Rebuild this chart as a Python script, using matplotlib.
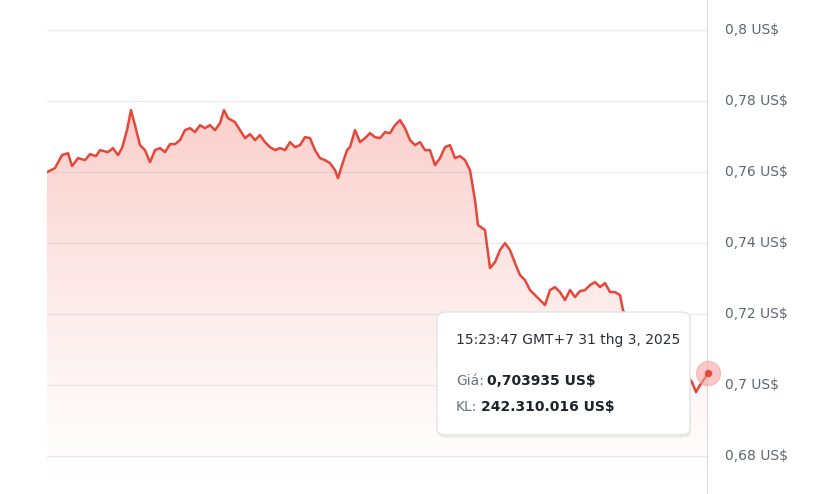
import matplotlib.pyplot as plt
import numpy as np
from matplotlib.patches import FancyBboxPatch

# pixel-read trace, converted to price below
px = [47, 55, 62, 68, 72, 78, 85, 90, 96, 100, 108, 113, 118, 122, 127, 131, 135, 140, 145, 150,
      155, 160, 165, 170, 175, 180, 185, 190, 195, 200, 205, 210, 215, 220, 224, 228, 235, 240, 245, 250,
      255, 260, 265, 270, 275, 280, 285, 290, 295, 300, 305, 310, 315, 320, 325, 330, 335, 338, 342, 347,
      350, 355, 360, 365, 370, 375, 380, 385, 390, 395, 400, 405, 410, 415, 420, 425, 430, 435, 440, 445,
      450, 455, 460, 465, 470, 475, 478, 485, 490, 495, 500, 505, 510, 515, 520, 525, 530, 535, 540, 545,
      550, 555, 560, 565, 570, 575, 580, 585, 590, 595, 600, 605, 610, 615, 620, 623, 630, 640, 650, 660,
      670, 680, 688, 692, 696, 700, 705, 708]
py = [172, 168, 155, 153, 166, 158, 160, 154, 156, 150, 152, 148, 155, 148, 130, 110, 125, 145, 150, 162,
      150, 148, 152, 144, 144, 140, 130, 128, 132, 125, 128, 125, 130, 123, 110, 118, 122, 130, 138, 134,
      140, 135, 142, 147, 150, 148, 150, 142, 147, 145, 137, 138, 150, 158, 160, 163, 170, 178, 165, 150,
      147, 130, 142, 138, 133, 137, 138, 132, 133, 125, 120, 128, 140, 145, 142, 150, 150, 165, 158, 147,
      145, 158, 156, 160, 170, 200, 225, 230, 268, 262, 250, 243, 250, 263, 275, 280, 290, 295, 300, 305,
      290, 287, 292, 300, 290, 297, 291, 290, 285, 282, 287, 283, 292, 292, 295, 310, 325, 335, 345, 355,
      362, 370, 377, 382, 392, 385, 378, 373]
price = [0.8 - (y - 30) / 71 * 0.02 for y in py]
ticks = [0.68, 0.70, 0.72, 0.74, 0.76, 0.78, 0.80]
tick_labels = ["0,68 US$", "0,7 US$", "0,72 US$", "0,74 US$", "0,76 US$", "0,78 US$", "0,8 US$"]

W, H = 825, 494
fig = plt.figure(figsize=(W / 100, H / 100), dpi=100)
ax = fig.add_axes([47 / W, 0, (708 - 47) / W, 1])
ax.set_xlim(47, 708)
ymin, ymax = 0.6693, 0.8085
ax.set_ylim(ymin, ymax)
for s in ax.spines.values():
    s.set_visible(False)
ax.set_xticks([])
ax.set_yticks([])
for t, lab in zip(ticks, tick_labels):
    ax.axhline(t, color="#ececef", lw=0.9, zorder=0)
    ax.text(725, t, lab, fontsize=10, color="#5f6673", va="center", ha="left", clip_on=False)

# gradient fill
grad = np.linspace(0, 1, 256).reshape(-1, 1)
rgba = np.zeros((256, 1, 4))
rgba[..., 0], rgba[..., 1], rgba[..., 2] = 0.93, 0.33, 0.28
rgba[..., 3] = 0.28 * grad[::-1] ** 1.3
rgba = rgba[::-1]
im = ax.imshow(rgba, extent=[47, 708, ymin, 0.776], aspect="auto", origin="lower", zorder=1)
poly = ax.fill_between(px, price, ymin, color="none")
im.set_clip_path(poly.get_paths()[0], transform=ax.transData)
ax.plot(px, price, color="#e5473a", lw=1.8, zorder=3)

ax.axvline(708, color="#cfd2d8", lw=1.2, zorder=2)
ax.scatter([px[-1]], [price[-1]], s=300, color="#f4a6a0", alpha=0.6, zorder=4, clip_on=False)
ax.scatter([px[-1]], [price[-1]], s=18, color="#e5473a", zorder=5, clip_on=False)

# tooltip
x0, y0, x1, y1 = 437, 312, 690, 435
shadow = FancyBboxPatch(((x0 + 1) / W, 1 - (y1 + 3) / H), (x1 - x0) / W, (y1 - y0) / H,
                        boxstyle="round,pad=0,rounding_size=0.012", transform=fig.transFigure,
                        facecolor="#000000", alpha=0.06, lw=0, zorder=9)
fig.patches.append(shadow)
box = FancyBboxPatch((x0 / W, 1 - y1 / H), (x1 - x0) / W, (y1 - y0) / H,
                     boxstyle="round,pad=0,rounding_size=0.012", transform=fig.transFigure,
                     facecolor="white", edgecolor="#e2e4e8", lw=1, zorder=10)
fig.patches.append(box)
fig.text(456 / W, 1 - 340 / H, "15:23:47 GMT+7 31 thg 3, 2025", fontsize=10, color="#2b2f36", va="center", zorder=11)
fig.text(456 / W, 1 - 381 / H, "Giá:", fontsize=10, color="#6b7280", va="center", zorder=11)
fig.text(487 / W, 1 - 381 / H, "0,703935 US$", fontsize=10, color="#1f2329", weight="bold", va="center", zorder=11)
fig.text(456 / W, 1 - 407 / H, "KL:", fontsize=10, color="#6b7280", va="center", zorder=11)
fig.text(481 / W, 1 - 407 / H, "242.310.016 US$", fontsize=10, color="#1f2329", weight="bold", va="center", zorder=11)

fig.savefig("out.png", dpi=100)
